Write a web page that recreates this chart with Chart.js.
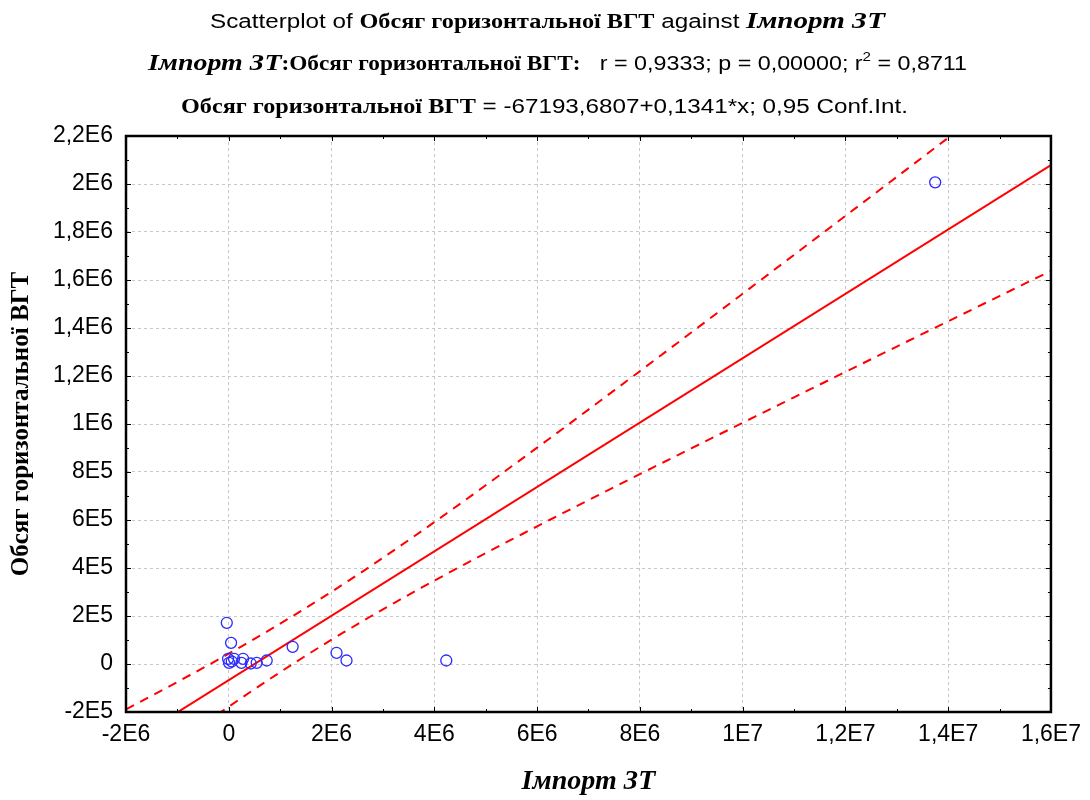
<!DOCTYPE html>
<html>
<head>
<meta charset="utf-8">
<script src="https://cdn.jsdelivr.net/npm/chart.js@4.4.1/dist/chart.umd.min.js"></script>
<style>
  body { margin: 0; background: #fff; }
  #wrap { width: 1090px; height: 800px; }
</style>
</head>
<body>
<div id="wrap"><canvas id="myChart" width="1090" height="800"></canvas></div>
<script>
// Імпорт ЗТ (x) і Обсяг горизонтальної ВГТ (y)
const importZT = [-38800, 44700, -13600, 5800, 58300, 102900, 246600, 277700,
                  427200, 543700, 737900, 1242700, 2097000, 2291200, 4233000, 13747000];
const obsyagVGT = [171700, 88300, 21700, 5000, 10400, 21700, 5000, 21700,
                   2100, 5000, 14600, 71700, 46700, 14600, 14600, 2007000];

// коефіцієнти регресії з заголовка
const intercept = -67193.6807;
const slope = 0.1341;
const tCrit = 2.145; // t(0.975; n-2 = 14)

const xTicks = { min: -2e6, max: 1.6e7, step: 2e6 };
const yTicks = { min: -2e5, max: 2.2e6, step: 2e5 };

const serif = "'Liberation Serif', 'Times New Roman', serif";
const sans = "'Liberation Sans', Arial, sans-serif";

// статистика для довірчого інтервалу
const n = importZT.length;
const xMean = importZT.reduce((a, b) => a + b, 0) / n;
let sxx = 0, sse = 0;
importZT.forEach((x, i) => {
  sxx += (x - xMean) * (x - xMean);
  const r = obsyagVGT[i] - (intercept + slope * x);
  sse += r * r;
});
const sErr = Math.sqrt(sse / (n - 2));

const points = importZT.map((x, i) => ({ x: x, y: obsyagVGT[i] }));
const fitLine = [xTicks.min, xTicks.max].map(x => ({ x: x, y: intercept + slope * x }));
const upper = [], lower = [];
for (let x = xTicks.min; x <= xTicks.max; x += 2.5e5) {
  const yh = intercept + slope * x;
  const hw = tCrit * sErr * Math.sqrt(1 / n + (x - xMean) * (x - xMean) / sxx);
  upper.push({ x: x, y: yh + hw });
  lower.push({ x: x, y: yh - hw });
}

function sci(v) {
  if (Math.abs(v) < 1e-6) return '0';
  const e = Math.floor(Math.log10(Math.abs(v)) + 1e-9);
  const m = Math.round(v / Math.pow(10, e) * 10) / 10;
  return String(m).replace('.', ',') + 'E' + e;
}

// заголовок зі змішаними шрифтами
const titleLines = [
  { y: 28, x0: 210, x1: 885, runs: [
    ['Scatterplot of ', '20px ' + sans],
    ['Обсяг горизонтальної ВГТ', 'bold 20px ' + serif],
    [' against ', '20px ' + sans],
    ['Імпорт ЗТ', 'italic bold 24px ' + serif]
  ]},
  { y: 70, x0: 148, x1: 967, runs: [
    ['Імпорт ЗТ', 'italic bold 24px ' + serif],
    [':Обсяг горизонтальної ВГТ:', 'bold 20px ' + serif],
    ['   r = 0,9333; p = 0,00000; r', '20px ' + sans],
    ['2', '13px ' + sans, -9],
    [' = 0,8711', '20px ' + sans]
  ]},
  { y: 113, x0: 181, x1: 908, runs: [
    ['Обсяг горизонтальної ВГТ', 'bold 20px ' + serif],
    [' = -67193,6807+0,1341*x; 0,95 Conf.Int.', '20px ' + sans]
  ]}
];

const titlePlugin = {
  id: 'titles',
  afterDraw(chart) {
    const ctx = chart.ctx;
    ctx.save();
    ctx.fillStyle = '#000';
    ctx.textBaseline = 'alphabetic';
    titleLines.forEach(line => {
      let w = 0;
      line.runs.forEach(r => { ctx.font = r[1]; w += ctx.measureText(r[0]).width; });
      const sx = (line.x1 - line.x0) / w;
      ctx.save();
      ctx.translate(line.x0, line.y);
      ctx.scale(sx, 1);
      let x = 0;
      line.runs.forEach(r => {
        ctx.font = r[1];
        ctx.fillText(r[0], x, r[2] || 0);
        x += ctx.measureText(r[0]).width;
      });
      ctx.restore();
    });
    ctx.restore();
  }
};

// рамка та внутрішні поділки
const framePlugin = {
  id: 'frame',
  afterDatasetsDraw(chart) {
    const ctx = chart.ctx, a = chart.chartArea;
    const sx = chart.scales.x, sy = chart.scales.y;
    ctx.save();
    ctx.strokeStyle = '#000';
    ctx.lineWidth = 1;
    for (let v = xTicks.min; v <= xTicks.max + 1; v += xTicks.step / 2) {
      const px = Math.round(sx.getPixelForValue(v)) + 0.5;
      const len = (Math.round((v - xTicks.min) / (xTicks.step / 2)) % 2 === 0) ? 5 : 3;
      ctx.beginPath();
      ctx.moveTo(px, a.bottom); ctx.lineTo(px, a.bottom - len);
      ctx.moveTo(px, a.top); ctx.lineTo(px, a.top + len);
      ctx.stroke();
    }
    for (let v = yTicks.min; v <= yTicks.max + 1; v += yTicks.step / 2) {
      const py = Math.round(sy.getPixelForValue(v)) + 0.5;
      const len = (Math.round((v - yTicks.min) / (yTicks.step / 2)) % 2 === 0) ? 5 : 3;
      ctx.beginPath();
      ctx.moveTo(a.left, py); ctx.lineTo(a.left + len, py);
      ctx.moveTo(a.right, py); ctx.lineTo(a.right - len, py);
      ctx.stroke();
    }
    ctx.lineWidth = 2.5;
    ctx.strokeRect(a.left, a.top, a.right - a.left, a.bottom - a.top);
    ctx.restore();
  }
};

const ctx = document.querySelector('#myChart').getContext('2d');
const myChart = new Chart(ctx, {
  type: 'scatter',
  data: {
    datasets: [
      {
        label: 'points',
        data: points,
        borderColor: '#2a2aff',
        backgroundColor: 'rgba(0,0,0,0)',
        borderWidth: 1.3,
        pointRadius: 5.5,
        order: 0
      },
      {
        type: 'line',
        label: 'fit',
        data: fitLine,
        borderColor: '#ff0000',
        borderWidth: 2,
        pointRadius: 0,
        fill: false,
        order: 1
      },
      {
        type: 'line',
        label: 'upper',
        data: upper,
        borderColor: '#ff0000',
        borderWidth: 2,
        borderDash: [9, 7],
        pointRadius: 0,
        fill: false,
        order: 1
      },
      {
        type: 'line',
        label: 'lower',
        data: lower,
        borderColor: '#ff0000',
        borderWidth: 2,
        borderDash: [9, 7],
        pointRadius: 0,
        fill: false,
        order: 1
      }
    ]
  },
  options: {
    responsive: false,
    animation: false,
    layout: { padding: { top: 136, right: 38, left: 0, bottom: 0 } },
    plugins: {
      legend: { display: false },
      title: { display: false },
      tooltip: { enabled: false }
    },
    scales: {
      x: {
        type: 'linear',
        min: xTicks.min,
        max: xTicks.max,
        ticks: {
          stepSize: xTicks.step,
          callback: sci,
          color: '#000',
          padding: 9,
          maxRotation: 0,
          font: { family: sans, size: 23 }
        },
        grid: { color: '#c8c8c8', lineWidth: 1, drawTicks: false },
        border: { display: false, dash: [3, 3] },
        title: {
          display: true,
          text: 'Імпорт ЗТ',
          color: '#000',
          padding: { top: 0, bottom: 1 },
          font: { family: serif, size: 28, weight: 'bold', style: 'italic' }
        },
        afterFit(s) { s.height = 88; }
      },
      y: {
        type: 'linear',
        min: yTicks.min,
        max: yTicks.max,
        ticks: {
          stepSize: yTicks.step,
          callback: sci,
          color: '#000',
          padding: 13,
          font: { family: sans, size: 23 }
        },
        grid: { color: '#c8c8c8', lineWidth: 1, drawTicks: false },
        border: { display: false, dash: [3, 3] },
        title: {
          display: true,
          text: 'Обсяг горизонтальної ВГТ',
          color: '#000',
          padding: { top: 7, bottom: 0 },
          font: { family: serif, size: 25, weight: 'bold' }
        },
        afterFit(s) { s.width = 126; }
      }
    }
  },
  plugins: [titlePlugin, framePlugin]
});
</script>
</body>
</html>
